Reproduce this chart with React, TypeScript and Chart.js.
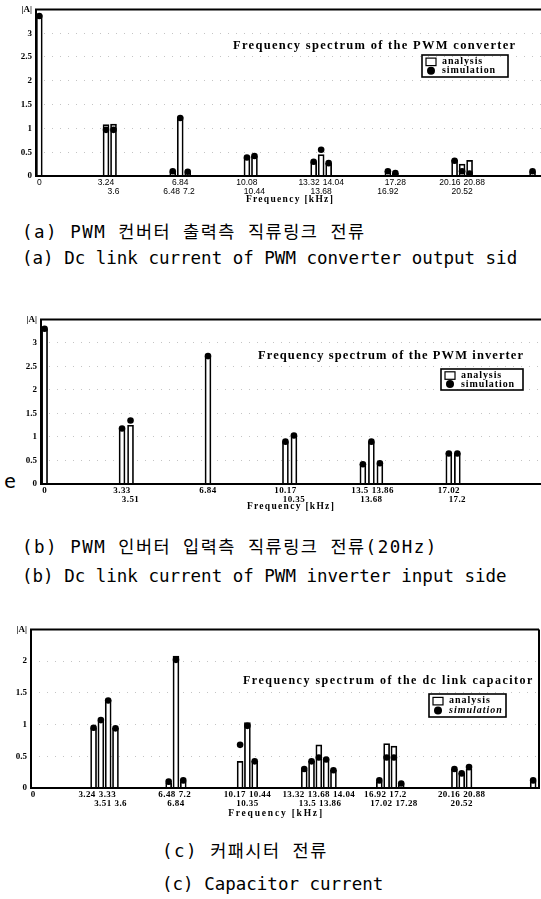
import React, { useEffect, useRef } from 'react';
import { Chart, registerables } from 'chart.js';

Chart.register(...registerables);

// Spacing of the switching harmonics (kHz); sidebands are grouped around n * HARMONIC.
const HARMONIC = 3.42;

// (a) DC-link current, PWM converter output side
const convFreq = [0, 3.24, 3.6, 6.48, 6.84, 7.2, 10.08, 10.44, 13.32, 13.68, 14.04, 16.92, 17.28, 20.16, 20.52, 20.88, 23.94];
const convAnalysis = [3.38, 1.08, 1.09, 0.08, 1.24, 0.09, 0.38, 0.42, 0.3, 0.45, 0.27, 0.1, 0.06, 0.33, 0.25, 0.33, 0.09];
const convSimulation = [3.36, 0.97, 0.97, 0.1, 1.22, 0.09, 0.39, 0.42, 0.3, 0.55, 0.27, 0.1, 0.06, 0.32, 0.1, 0.05, 0.1];
const convTickLabels = ['', '3.24', '3.6', '6.48', '6.84', '7.2', '10.08', '10.44', '13.32', '13.68', '14.04', '16.92', '17.28', '20.16', '20.52', '20.88', ''];
const convTickRow = [0, 0, 1, 1, 0, 1, 0, 1, 0, 1, 0, 1, 0, 0, 1, 0, 0];

// (b) DC-link current, PWM inverter input side (20 Hz)
const invFreq = [0, 3.33, 3.51, 6.84, 10.17, 10.35, 13.5, 13.68, 13.86, 17.02, 17.2];
const invAnalysis = [3.3, 1.18, 1.25, 2.72, 0.9, 1.03, 0.42, 0.9, 0.42, 0.65, 0.65];
const invSimulation = [3.3, 1.18, 1.35, 2.72, 0.9, 1.03, 0.42, 0.9, 0.44, 0.65, 0.65];
const invTickLabels = ['', '3.33', '3.51', '6.84', '10.17', '10.35', '13.5', '13.68', '13.86', '17.02', '17.2'];
const invTickRow = [0, 0, 1, 0, 0, 1, 0, 1, 0, 0, 1];

// (c) DC-link capacitor current
const capFreq = [3.24, 3.33, 3.51, 3.6, 6.48, 6.84, 7.2, 10.17, 10.35, 10.44, 13.32, 13.5, 13.68, 13.86, 14.04, 16.92, 17.02, 17.2, 17.28, 20.16, 20.52, 20.88, 23.94];
const capAnalysis = [0.95, 1.07, 1.38, 0.94, 0.08, 2.08, 0.1, 0.42, 1.03, 0.42, 0.28, 0.42, 0.68, 0.46, 0.28, 0.1, 0.7, 0.66, 0.07, 0.3, 0.23, 0.3, 0.1];
const capSimulation = [0.95, 1.07, 1.38, 0.94, 0.1, 2.02, 0.12, 0.68, 0.98, 0.42, 0.3, 0.42, 0.48, 0.45, 0.28, 0.12, 0.48, 0.48, 0.07, 0.3, 0.23, 0.33, 0.12];
const capTickLabels = ['3.24', '3.33', '3.51', '3.6', '6.48', '6.84', '7.2', '10.17', '10.35', '10.44', '13.32', '13.5', '13.68', '13.86', '14.04', '16.92', '17.02', '17.2', '17.28', '20.16', '20.52', '20.88', ''];
const capTickRow = [0, 0, 1, 1, 0, 1, 0, 0, 1, 0, 0, 1, 0, 1, 0, 0, 1, 0, 1, 0, 1, 0, 0];

const SERIF = '"Liberation Serif", "DejaVu Serif", serif';
const SANS = '"Liberation Sans", Arial, sans-serif';
const CAPTION = '"DejaVu Sans Mono", "Noto Sans CJK KR", monospace';

type Spec = {
  freq: number[];
  analysis: number[];
  simulation: number[];
  tickLabels: string[];
  tickRow: number[];
  canvasTop: number;
  height: number;
  padTop: number;
  padBottom: number;
  padRight: number;
  axisWidth: number;
  xMin: number;
  xMax: number;
  yMax: number;
  slot: number;
  barWidth: number;
  rightBorder: boolean;
  tickFont: string;
  tickSpacing: number;
  rowDy: [number, number];
  axisTitle: { x: number; dy: number; font: string; spacing: number };
  title: { text: string; x: number; y: number; font: string; spacing: number };
  legend: { x: number; y: number; w: number; h: number; font: string; simFont: string; spacing: number };
};

const convSpec: Spec = {
  freq: convFreq, analysis: convAnalysis, simulation: convSimulation,
  tickLabels: convTickLabels, tickRow: convTickRow,
  canvasTop: 0, height: 210, padTop: 6, padBottom: 34, padRight: 0, axisWidth: 36,
  xMin: -0.16, xMax: 24.35, yMax: 3.5, slot: 7.5, barWidth: 6, rightBorder: false,
  tickFont: `8.5px ${SANS}`, tickSpacing: 0,
  rowDy: [7, 15.5],
  axisTitle: { x: 290, dy: 23.5, font: `bold 9.5px ${SERIF}`, spacing: 1.3 },
  title: { text: 'Frequency spectrum of the PWM converter', x: 233, y: 46, font: `bold 12.5px ${SERIF}`, spacing: 1.3 },
  legend: { x: 422, y: 55, w: 86, h: 22, font: `bold 10px ${SERIF}`, simFont: `bold 10px ${SERIF}`, spacing: 0.9 },
};

const invSpec: Spec = {
  freq: invFreq, analysis: invAnalysis, simulation: invSimulation,
  tickLabels: invTickLabels, tickRow: invTickRow,
  canvasTop: 310, height: 204, padTop: 6, padBottom: 30, padRight: 0, axisWidth: 41,
  xMin: -0.15, xMax: 20.78, yMax: 3.5, slot: 8.5, barWidth: 6, rightBorder: false,
  tickFont: `bold 9px ${SERIF}`, tickSpacing: 0.4,
  rowDy: [7, 15.5],
  axisTitle: { x: 291, dy: 23, font: `bold 9.5px ${SERIF}`, spacing: 1.3 },
  title: { text: 'Frequency spectrum of the PWM inverter', x: 258, y: 356, font: `bold 12.5px ${SERIF}`, spacing: 1.1 },
  legend: { x: 441, y: 369, w: 82, h: 21, font: `bold 10px ${SERIF}`, simFont: `bold 10px ${SERIF}`, spacing: 0.9 },
};

const capSpec: Spec = {
  freq: capFreq, analysis: capAnalysis, simulation: capSimulation,
  tickLabels: capTickLabels, tickRow: capTickRow,
  canvasTop: 620, height: 202, padTop: 6, padBottom: 34, padRight: 2, axisWidth: 31,
  xMin: -0.1, xMax: 24.22, yMax: 2.5, slot: 7.3, barWidth: 6, rightBorder: true,
  tickFont: `bold 9px ${SERIF}`, tickSpacing: 0.4,
  rowDy: [7, 15.5],
  axisTitle: { x: 276, dy: 26, font: `bold 9.5px ${SERIF}`, spacing: 1.8 },
  title: { text: 'Frequency spectrum of the dc link capacitor', x: 243, y: 681, font: `bold 12px ${SERIF}`, spacing: 1.5 },
  legend: { x: 429, y: 694, w: 77, h: 23, font: `bold 10px ${SERIF}`, simFont: `italic bold 10px ${SERIF}`, spacing: 1 },
};

type Cluster = { center: number; members: number[] };

// Group each spectral line with the switching harmonic it belongs to.
function buildClusters(freq: number[]): Cluster[] {
  const groups = new Map<number, number[]>();
  freq.forEach((f, j) => {
    const n = Math.round(f / HARMONIC);
    if (!groups.has(n)) groups.set(n, []);
    groups.get(n)!.push(j);
  });
  return [...groups.entries()]
    .sort((a, b) => a[0] - b[0])
    .map(([n, members]) => ({ center: +(n * HARMONIC).toFixed(2), members }));
}

function drawText(ctx: CanvasRenderingContext2D, text: string, x: number, y: number, font: string, spacing: number, align: CanvasTextAlign) {
  ctx.save();
  ctx.font = font;
  (ctx as any).letterSpacing = `${spacing}px`;
  ctx.textAlign = align;
  ctx.textBaseline = 'middle';
  ctx.fillStyle = '#000';
  ctx.fillText(text, x, y);
  ctx.restore();
}

function measure(ctx: CanvasRenderingContext2D, text: string, font: string, spacing: number) {
  ctx.save();
  ctx.font = font;
  (ctx as any).letterSpacing = `${spacing}px`;
  const w = ctx.measureText(text).width;
  ctx.restore();
  return w;
}

function buildConfig(spec: Spec): any {
  const clusters = buildClusters(spec.freq);
  const slots = Math.max(...clusters.map((c) => c.members.length));

  const datasets = Array.from({ length: slots }, (_, s) => ({
    label: `analysis ${s + 1}`,
    data: clusters.map((c) => ({ x: c.center, y: c.members[s] !== undefined ? spec.analysis[c.members[s]] : null })),
    backgroundColor: '#fff',
    borderColor: '#000',
    borderWidth: 1.7,
    borderSkipped: 'start',
    barThickness: spec.slot,
    maxBarThickness: spec.barWidth,
    grouped: true,
    skipNull: true,
  }));

  // For every spectral line: where its bar element lives.
  const barRef = spec.freq.map((_, j) => {
    for (let i = 0; i < clusters.length; i++) {
      const s = clusters[i].members.indexOf(j);
      if (s >= 0) return { s, i };
    }
    return { s: 0, i: 0 };
  });

  const off = spec.canvasTop;

  const marks = {
    id: 'spectrumMarks',
    afterDatasetsDraw(chart: any) {
      const ctx: CanvasRenderingContext2D = chart.ctx;
      const yScale = chart.scales.y;
      ctx.save();
      ctx.fillStyle = '#000';
      spec.freq.forEach((_, j) => {
        const { s, i } = barRef[j];
        const el = chart.getDatasetMeta(s).data[i];
        const y = yScale.getPixelForValue(spec.simulation[j]);
        ctx.beginPath();
        ctx.arc(el.x, y, 3.3, 0, Math.PI * 2);
        ctx.fill();
      });
      ctx.restore();
    },
    afterDraw(chart: any) {
      const ctx: CanvasRenderingContext2D = chart.ctx;
      const { left, right, top, bottom } = chart.chartArea;
      const xScale = chart.scales.x;

      // frame
      ctx.save();
      ctx.strokeStyle = '#000';
      ctx.lineWidth = 2;
      ctx.beginPath();
      ctx.moveTo(right, top);
      ctx.lineTo(left, top);
      ctx.lineTo(left, bottom);
      ctx.lineTo(right, bottom);
      if (spec.rightBorder) ctx.lineTo(right, top);
      ctx.stroke();
      ctx.restore();

      // frequency labels under the bars, two staggered rows
      const items: { text: string; x: number; w: number; row: number }[] = [];
      items.push({ text: '0', x: xScale.getPixelForValue(0), w: measure(ctx, '0', spec.tickFont, spec.tickSpacing), row: 0 });
      spec.tickLabels.forEach((text, j) => {
        if (!text) return;
        const { s, i } = barRef[j];
        const el = chart.getDatasetMeta(s).data[i];
        items.push({ text, x: el.x, w: measure(ctx, text, spec.tickFont, spec.tickSpacing), row: spec.tickRow[j] });
      });
      [0, 1].forEach((row) => {
        const r = items.filter((it) => it.row === row).sort((a, b) => a.x - b.x);
        for (let iter = 0; iter < 40; iter++) {
          for (let k = 1; k < r.length; k++) {
            const a = r[k - 1];
            const b = r[k];
            const need = (a.w + b.w) / 2 + 3;
            const d = b.x - a.x;
            if (d < need) {
              const m = (need - d) / 2;
              a.x -= m;
              b.x += m;
            }
          }
        }
      });
      items.forEach((it) => drawText(ctx, it.text, it.x, bottom + spec.rowDy[it.row], spec.tickFont, spec.tickSpacing, 'center'));

      // axis title
      drawText(ctx, 'Frequency [kHz]', spec.axisTitle.x, bottom + spec.axisTitle.dy, spec.axisTitle.font, spec.axisTitle.spacing, 'center');

      // chart title
      drawText(ctx, spec.title.text, spec.title.x, spec.title.y - off, spec.title.font, spec.title.spacing, 'left');

      // legend box
      const lg = spec.legend;
      const ly = lg.y - off;
      ctx.save();
      ctx.strokeStyle = '#000';
      ctx.lineWidth = 1.6;
      ctx.strokeRect(lg.x, ly, lg.w, lg.h);
      ctx.lineWidth = 1.2;
      const r1 = ly + lg.h * 0.3;
      const r2 = ly + lg.h * 0.72;
      ctx.strokeRect(lg.x + 4, r1 - 3.5, 10, 7.5);
      ctx.fillStyle = '#000';
      ctx.beginPath();
      ctx.arc(lg.x + 9, r2, 4, 0, Math.PI * 2);
      ctx.fill();
      ctx.restore();
      drawText(ctx, 'analysis', lg.x + 20, r1, lg.font, lg.spacing, 'left');
      drawText(ctx, 'simulation', lg.x + 20, r2, lg.simFont, lg.spacing, 'left');
    },
  };

  return {
    type: 'bar',
    data: { datasets },
    options: {
      responsive: false,
      animation: false,
      events: [],
      layout: { padding: { top: spec.padTop, bottom: spec.padBottom, left: 0, right: spec.padRight } },
      plugins: { legend: { display: false }, tooltip: { enabled: false }, title: { display: false } },
      scales: {
        x: { type: 'linear', display: false, min: spec.xMin, max: spec.xMax, offset: false },
        y: {
          min: 0,
          max: spec.yMax,
          afterFit: (scale: any) => {
            scale.width = spec.axisWidth;
          },
          ticks: {
            stepSize: 0.5,
            padding: 4,
            color: '#000',
            font: { family: SERIF, size: 9, weight: 'bold' },
            callback: (v: number) => (v >= spec.yMax - 1e-9 ? '|A|' : String(v)),
          },
          grid: { color: '#c4c4c4', lineWidth: 1, drawTicks: false },
          border: { display: false, dash: [1, 7] },
        },
      },
    },
    plugins: [marks],
  };
}

function SpectrumChart({ spec }: { spec: Spec }) {
  const ref = useRef<HTMLCanvasElement>(null);
  useEffect(() => {
    const chart = new Chart(ref.current!, buildConfig(spec));
    return () => chart.destroy();
  }, [spec]);
  return (
    <canvas
      ref={ref}
      width={541}
      height={spec.height}
      style={{ position: 'absolute', left: 0, top: spec.canvasTop, width: 541, height: spec.height }}
    />
  );
}

function Caption({ text, left, cy, size = 17.5, spacing = 0 }: { text: string; left: number; cy: number; size?: number; spacing?: number }) {
  return (
    <div
      style={{
        position: 'absolute',
        left,
        top: cy - 11,
        height: 22,
        lineHeight: '22px',
        fontFamily: CAPTION,
        fontSize: size,
        letterSpacing: spacing,
        whiteSpace: 'nowrap',
        color: '#000',
      }}
    >
      {text}
    </div>
  );
}

export default function App() {
  return (
    <div style={{ position: 'absolute', left: 0, top: 0, width: 541, height: 899, background: '#fff', overflow: 'hidden' }}>
      <SpectrumChart spec={convSpec} />
      <Caption text="(a) PWM 컨버터 출력측 직류링크 전류" left={22} cy={232} spacing={1.5} />
      <Caption text="(a) Dc link current of PWM converter output sid" left={22} cy={258} />

      <Caption text="e" left={4} cy={481} size={20} />
      <SpectrumChart spec={invSpec} />
      <Caption text="(b) PWM 인버터 입력측 직류링크 전류(20Hz)" left={22} cy={547} spacing={1.5} />
      <Caption text="(b) Dc link current of PWM inverter input side" left={22} cy={576} />

      <SpectrumChart spec={capSpec} />
      <Caption text="(c) 커패시터 전류" left={162} cy={851} spacing={1.5} />
      <Caption text="(c) Capacitor current" left={162} cy={884} />
    </div>
  );
}
